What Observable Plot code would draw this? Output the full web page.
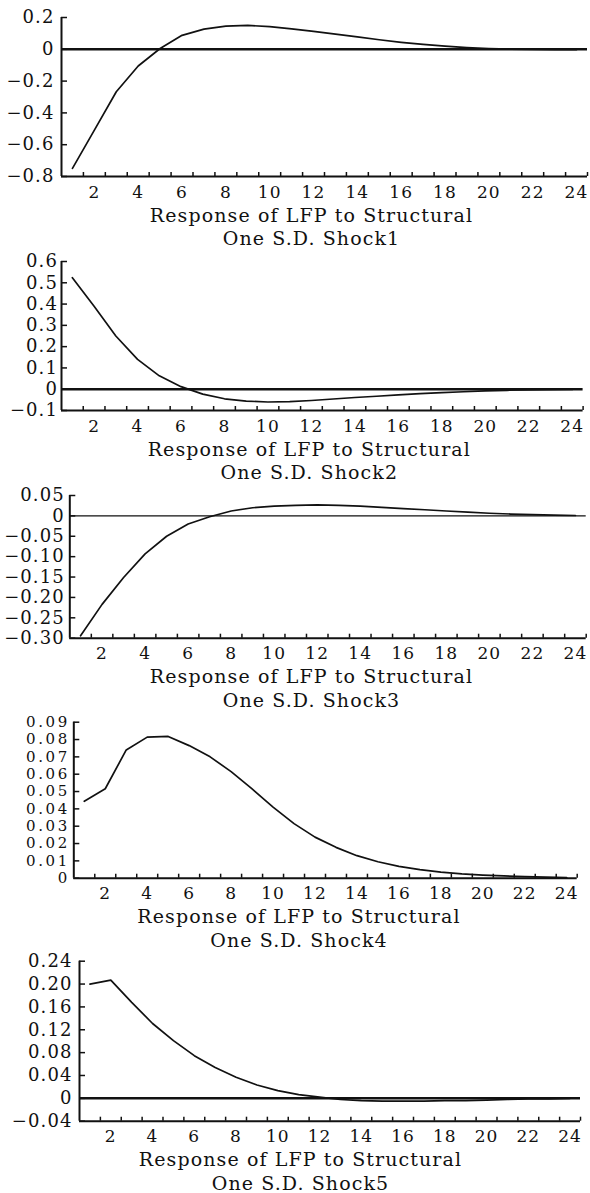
<!DOCTYPE html>
<html>
<head>
<meta charset="utf-8">
<script src="https://cdn.jsdelivr.net/npm/d3@7"></script>
<script src="https://cdn.jsdelivr.net/npm/@observablehq/plot@0.6"></script>
<style>
  html, body { margin: 0; padding: 0; background: #fff; }
  #chart { width: 590px; }
  #chart svg { display: block; }
</style>
</head>
<body>
<div id="chart"></div>
<script>
// ---- data ----
const periods = [1,2,3,4,5,6,7,8,9,10,11,12,13,14,15,16,17,18,19,20,21,22,23,24];

const shock1 = [-0.749,-0.508,-0.267,-0.105,0.005,0.088,0.127,0.146,0.150,0.143,0.128,0.113,0.095,0.078,0.060,0.044,0.031,0.020,0.011,0.005,0.001,-0.001,-0.002,-0.002];
const shock2 = [0.524,0.390,0.250,0.140,0.063,0.012,-0.023,-0.045,-0.056,-0.060,-0.058,-0.053,-0.046,-0.039,-0.033,-0.027,-0.021,-0.016,-0.012,-0.008,-0.005,-0.003,-0.002,-0.001];
const shock3 = [-0.294,-0.217,-0.151,-0.093,-0.050,-0.020,-0.002,0.012,0.020,0.024,0.026,0.027,0.026,0.024,0.021,0.018,0.015,0.012,0.009,0.0065,0.0045,0.003,0.002,0.001];
const shock4 = [0.0444,0.0516,0.0740,0.0814,0.0818,0.0765,0.0700,0.0615,0.0515,0.0410,0.0315,0.0237,0.0178,0.0130,0.0095,0.0068,0.0049,0.0035,0.0025,0.0018,0.0013,0.0009,0.0006,0.0004];
const shock5 = [0.200,0.207,0.168,0.131,0.101,0.0747,0.054,0.0368,0.0234,0.0135,0.0065,0.002,-0.002,-0.004,-0.005,-0.005,-0.005,-0.004,-0.004,-0.003,-0.002,-0.001,-0.001,0.000];

const xDomain = [0.5, 24.5];
const xTickPositions = [1.5,2.5,3.5,4.5,5.5,6.5,7.5,8.5,9.5,10.5,11.5,12.5,13.5,14.5,15.5,16.5,17.5,18.5,19.5,20.5,21.5,22.5,23.5,24.5];
const xTickLabels = [2,4,6,8,10,12,14,16,18,20,22,24];

const yTicks1 = [0.2, 0, -0.2, -0.4, -0.6, -0.8];
const yLabels1 = ["0.2", "0", "−0.2", "−0.4", "−0.6", "−0.8"];
const yTicks2 = [0.6, 0.5, 0.4, 0.3, 0.2, 0.1, 0, -0.1];
const yLabels2 = ["0.6", "0.5", "0.4", "0.3", "0.2", "0.1", "0", "−0.1"];
const yTicks3 = [0.05, 0, -0.05, -0.10, -0.15, -0.20, -0.25, -0.30];
const yLabels3 = ["0.05", "0", "−0.05", "−0.10", "−0.15", "−0.20", "−0.25", "−0.30"];
const yTicks4 = [0.09, 0.08, 0.07, 0.06, 0.05, 0.04, 0.03, 0.02, 0.01, 0];
const yLabels4 = ["0.09", "0.08", "0.07", "0.06", "0.05", "0.04", "0.03", "0.02", "0.01", "0"];
const yTicks5 = [0.24, 0.20, 0.16, 0.12, 0.08, 0.04, 0, -0.04];
const yLabels5 = ["0.24", "0.20", "0.16", "0.12", "0.08", "0.04", "0", "−0.04"];

const captionLine1 = "Response of LFP to Structural";
const captionLine2 = ["One S.D. Shock1", "One S.D. Shock2", "One S.D. Shock3", "One S.D. Shock4", "One S.D. Shock5"];

const series = [shock1, shock2, shock3, shock4, shock5];
const yTicksAll = [yTicks1, yTicks2, yTicks3, yTicks4, yTicks5];
const yLabelsAll = [yLabels1, yLabels2, yLabels3, yLabels4, yLabels5];

// ---- layout (styling only) ----
const W = 590;
const layout = [
  {h: 245, mt: 17,   mb: 69,   ml: 61,   mr: 3,    zero: 2.5, capDx: -13,   yPad: 7,   yFont: 18, yLs: 1.1, zeroLine: true},
  {h: 233, mt: 16,   mb: 68,   ml: 61,   mr: 7.4,  zero: 2.5, capDx: -13,   yPad: 3.5, yFont: 18, yLs: 1.1, zeroLine: true},
  {h: 227, mt: 17,   mb: 67.3, ml: 69.3, mr: 4.3,  zero: 1.3, capDx: -16.5, yPad: 5,   yFont: 18, yLs: 1.1, zeroLine: true},
  {h: 240, mt: 16.7, mb: 67.3, ml: 73.3, mr: 13.3, zero: 0,   capDx: -26.5, yPad: 4,   yFont: 15, yLs: 2.6, zeroLine: false},
  {h: 248, mt: 15.7, mb: 72.3, ml: 79,   mr: 10,   zero: 2.5, capDx: -29.5, yPad: 7,   yFont: 18, yLs: 1.1, zeroLine: true}
];

const ink = "#111";
const xTickPx = 4, yTickPx = 6;   // tick lengths in pixels
const chart = document.getElementById("chart");

series.forEach((values, i) => {
  const L = layout[i];
  const yt = yTicksAll[i];
  const labelMap = new Map(yt.map((v, j) => [v, yLabelsAll[i][j]]));
  const yMin = d3.min(yt), yMax = d3.max(yt);
  // convert pixel tick lengths to domain units of this panel
  const frameH = L.h - L.mt - L.mb, frameW = W - L.ml - L.mr;
  const xTickLen = xTickPx / frameH * (yMax - yMin);
  const yTickLen = yTickPx / frameW * (xDomain[1] - xDomain[0]);
  const marks = [
    // inward tick marks
    Plot.ruleX(xTickPositions, {x: d => d, y1: () => yMin, y2: () => yMin + xTickLen, stroke: ink, strokeWidth: 1.5}),
    Plot.ruleY(yt, {y: d => d, x1: () => xDomain[0], x2: () => xDomain[0] + yTickLen, stroke: ink, strokeWidth: 1.5}),
    // tick labels
    Plot.axisX(xTickLabels, {tickSize: 0, tickPadding: 9, fontSize: 17, fill: ink, label: null}),
    Plot.axisY(yt, {tickSize: 0, tickPadding: L.yPad, tickFormat: d => labelMap.get(d), fontSize: L.yFont, fill: ink, label: null}),
    // axis lines
    Plot.ruleX([xDomain[0]], {stroke: ink, strokeWidth: 2}),
    Plot.ruleY([yMin], {stroke: ink, strokeWidth: 2})
  ];
  if (L.zeroLine) marks.push(Plot.ruleY([0], {stroke: ink, strokeWidth: L.zero}));
  marks.push(
    Plot.line(periods, {x: periods, y: values, stroke: ink, strokeWidth: 1.7, curve: "linear"}),
    Plot.text([captionLine1], {text: d => d, frameAnchor: "bottom", dx: L.capDx, dy: 31.5, lineAnchor: "top", fontSize: 19, fill: ink}),
    Plot.text([captionLine2[i]], {text: d => d, frameAnchor: "bottom", dx: L.capDx, dy: 54.8, lineAnchor: "top", fontSize: 19, fill: ink})
  );
  const svg = Plot.plot({
    width: W,
    height: L.h,
    marginTop: L.mt,
    marginBottom: L.mb,
    marginLeft: L.ml,
    marginRight: L.mr,
    style: "font-family: 'DejaVu Serif', serif; letter-spacing: 1.1px; background: #fff; color: #111; overflow: visible;",
    x: {domain: xDomain},
    y: {domain: [yMin, yMax]},
    marks
  });
  // per-panel letter spacing for y tick labels (styling)
  svg.querySelectorAll("g[aria-label='y-axis tick label'] text").forEach(t => t.style.letterSpacing = L.yLs + "px");
  chart.appendChild(svg);
});
</script>
</body>
</html>
